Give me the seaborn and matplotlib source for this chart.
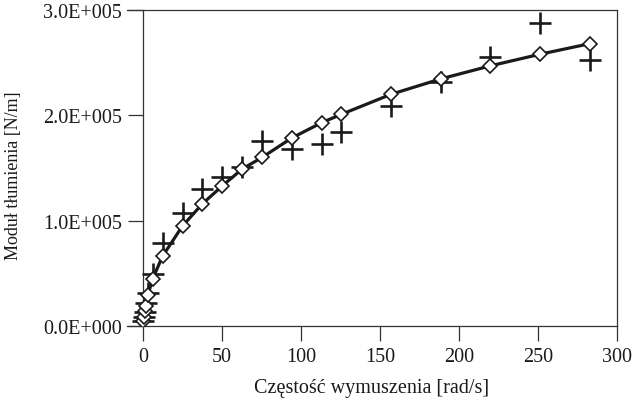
import matplotlib
matplotlib.use("Agg")
import matplotlib.pyplot as plt
import matplotlib.ticker as mticker
import pandas as pd
import seaborn as sns

# excitation frequency [rad/s]
freq = [0.314, 0.628, 1.257, 1.885, 3.142, 6.283, 12.57, 25.13, 37.70, 50.27,
        62.83, 75.40, 94.25, 113.1, 125.7, 157.1, 188.5, 219.9, 251.3, 282.7]
# model (line with diamonds)
model = [5000, 9000, 14000, 19000, 29000, 45000, 66500, 95000, 116000, 133000,
         149000, 160000, 178500, 193000, 201000, 220000, 234600, 247000, 258000, 268000]
# measurements (plus markers)
meas_freq = [0.314, 0.628, 1.257, 1.885, 3.142, 6.283, 12.57, 25.13, 37.70, 50.27,
             62.83, 75.40, 94.25, 113.1, 125.7, 157.1, 188.5, 219.9, 251.3, 282.7]
meas = [4500, 8500, 13000, 22000, 31000, 49000, 79000, 107000, 130000, 141000,
        151000, 176000, 168000, 173000, 184000, 209000, 232000, 255000, 288000, 253000]

xticks = [0, 50, 100, 150, 200, 250, 300]
yticks = [0, 100000, 200000, 300000]

df_model = pd.DataFrame({"f": freq, "c": model})
df_meas = pd.DataFrame({"f": meas_freq, "c": meas})

sns.set_theme(style="ticks")
plt.rcParams["font.family"] = ["Liberation Serif", "DejaVu Serif"]

fig = plt.figure(figsize=(6.33, 4.02), dpi=100)
ax = fig.add_axes([127 / 633, 1 - 327 / 402, (617 - 127) / 633, (327 - 11) / 402])

ink = "#1a1a1a"
sns.scatterplot(data=df_meas, x="f", y="c", marker="+", s=260, color=ink,
                linewidth=1.9, ax=ax, zorder=3)
sns.lineplot(data=df_model, x="f", y="c", color=ink, linewidth=2.3, marker="D",
             markersize=7.5, markerfacecolor="white", markeredgecolor=ink,
             markeredgewidth=1.2, ax=ax, zorder=4)

ax.set_xlim(-10, 300)
ax.set_ylim(0, 300000)
ax.set_xticks(xticks)
ax.set_yticks(yticks)


def sci(v, pos):
    if v == 0:
        return "0.0E+000"
    exp = 0
    m = v
    while abs(m) >= 10:
        m /= 10
        exp += 1
    return f"{m:.1f}E+{exp:03d}"


ax.yaxis.set_major_formatter(mticker.FuncFormatter(sci))

for side in ["top", "right", "bottom", "left"]:
    ax.spines[side].set_color("#333333")
    ax.spines[side].set_linewidth(0.9)
ax.spines["left"].set_position(("data", 0))

ax.tick_params(axis="both", direction="out", length=11, width=0.9,
               color="#333333", labelsize=14.5, labelcolor=ink, pad=4)

ax.set_xlabel("Częstość wymuszenia [rad/s]", fontsize=14.5, color=ink, labelpad=9)
ax.set_ylabel("Moduł tłumienia [N/m]", fontsize=13, color=ink)
ax.yaxis.set_label_coords(-0.214, 0.478)

fig.savefig("out.png", dpi=100)
